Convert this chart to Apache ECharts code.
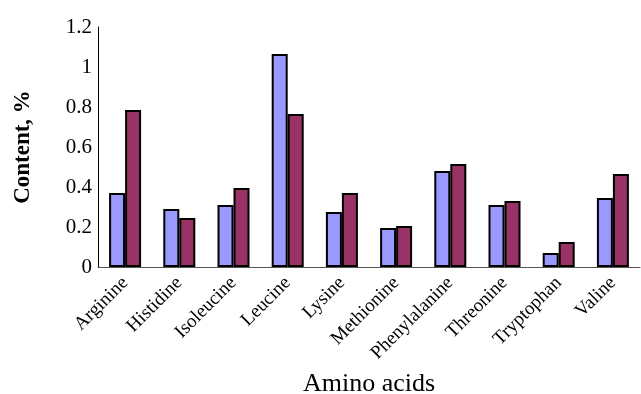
<!DOCTYPE html>
<html><head><meta charset="utf-8">
<script src="https://cdn.jsdelivr.net/npm/echarts@6/dist/echarts.min.js"></script>
<style>html,body{margin:0;padding:0;background:#fff}#c{width:641px;height:394px}</style>
</head><body><div id="c"></div>
<script>
const categories = ["Arginine","Histidine","Isoleucine","Leucine","Lysine","Methionine","Phenylalanine","Threonine","Tryptophan","Valine"];
const seriesA = [0.37,0.29,0.31,1.065,0.275,0.195,0.48,0.31,0.07,0.345];
const seriesB = [0.785,0.245,0.395,0.765,0.37,0.205,0.515,0.33,0.125,0.465];
const yTicks = [0,0.2,0.4,0.6,0.8,1,1.2];

const chart = echarts.init(document.getElementById('c'));
const font = '"Liberation Serif","Times New Roman",serif';
chart.setOption({
  animation:false,
  grid:{left:98,right:1,top:27,bottom:127,outerBoundsMode:'none',containLabel:false},
  xAxis:{type:'category',data:categories,
    axisLine:{lineStyle:{color:'#555',width:1}},
    axisTick:{show:false},
    axisLabel:{rotate:45,fontFamily:font,fontSize:19,color:'#000',margin:13,interval:0},
    name:'Amino acids',nameLocation:'middle',nameGap:104,
    nameTextStyle:{fontFamily:font,fontSize:26,color:'#000'}},
  yAxis:{type:'value',min:0,max:1.2,interval:0.2,
    axisLine:{show:true,lineStyle:{color:'#000',width:1}},
    axisTick:{show:false},
    splitLine:{show:false},
    axisLabel:{fontFamily:font,fontSize:21,color:'#000',margin:6,
      formatter:v=>{const t=yTicks.find(x=>Math.abs(x-v)<1e-9);return t===undefined?'':String(t);}},
    name:'Content, %',nameLocation:'middle',nameGap:63,
    nameTextStyle:{fontFamily:font,fontSize:23,fontWeight:'bold',color:'#000'}},
  series:[
    {type:'bar',data:seriesA,barWidth:16,barGap:'0%',
      itemStyle:{color:'#9999ff',borderColor:'#000',borderWidth:2}},
    {type:'bar',data:seriesB,barWidth:16,barGap:'0%',
      itemStyle:{color:'#993366',borderColor:'#000',borderWidth:2}}
  ]
});
</script></body></html>
